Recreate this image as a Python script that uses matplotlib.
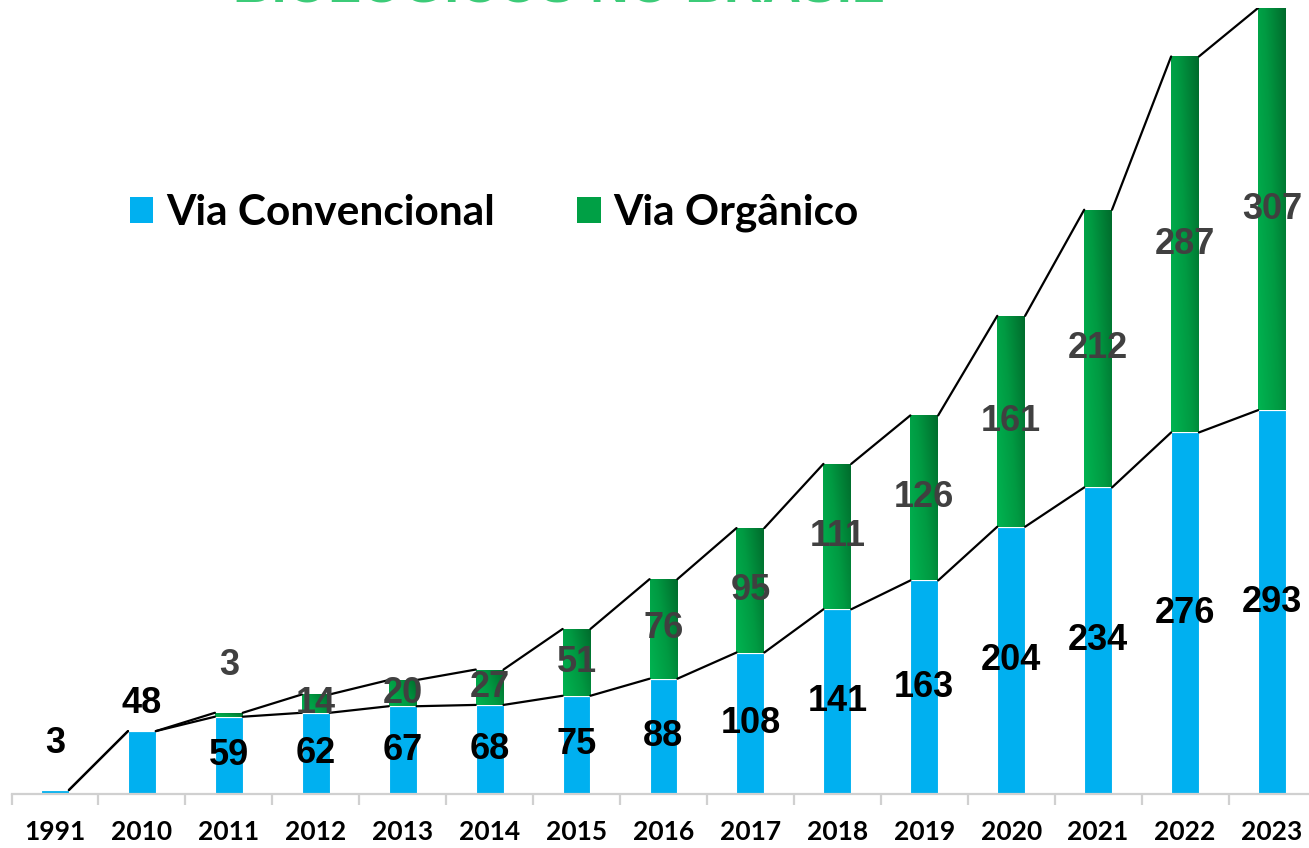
import matplotlib
matplotlib.use("Agg")
import matplotlib.pyplot as plt
import numpy as np
from matplotlib.patches import Patch
from matplotlib.colors import LinearSegmentedColormap

years = ["1991", "2010", "2011", "2012", "2013", "2014", "2015", "2016",
         "2017", "2018", "2019", "2020", "2021", "2022", "2023"]
convencional = [3, 48, 59, 62, 67, 68, 75, 88, 108, 141, 163, 204, 234, 276, 293]
organico = [0, 0, 3, 14, 20, 27, 51, 76, 95, 111, 126, 161, 212, 287, 307]

blue = "#00b0f0"
green_cmap = LinearSegmentedColormap.from_list("g", ["#00b451", "#009a42", "#006b2c"])

fig = plt.figure(figsize=(13.09, 8.48), dpi=100)
ax = fig.add_axes([11.5 / 1309, 54 / 848, 1 - 11.5 / 1309, 786 / 848])

x = np.arange(len(years))
w = 0.32
conv = np.array(convencional)
org = np.array(organico)
total = conv + org

bars_c = ax.bar(x, conv, w, color=blue, edgecolor="white", linewidth=0.8, zorder=2)
bars_o = ax.bar(x, org, w, bottom=conv, color="#00a045", edgecolor="white",
                linewidth=0.8, zorder=2)

# gradient fill for the green bars
gx, gy = np.meshgrid(np.linspace(0, 1, 50), np.linspace(0, 1, 200))
grad = 0.65 * gx + 0.35 * gy
for b in bars_o:
    if b.get_height() <= 0:
        continue
    x0, y0 = b.get_x(), b.get_y()
    im = ax.imshow(grad, cmap=green_cmap, origin="lower", aspect="auto",
                   extent=[x0, x0 + b.get_width(), y0, y0 + b.get_height()],
                   zorder=2.5, vmin=0, vmax=1)
    im.set_clip_path(b)

# series lines between the bars (Excel style)
for i in range(len(x) - 1):
    ax.plot([x[i] + w / 2, x[i + 1] - w / 2], [conv[i], conv[i + 1]],
            color="black", lw=1.6, zorder=3, solid_capstyle="round")
    ax.plot([x[i] + w / 2, x[i + 1] - w / 2], [total[i], total[i + 1]],
            color="black", lw=1.6, zorder=3, solid_capstyle="round")

ax.set_xlim(-0.5, 14.426)
ax.set_ylim(0, 600)

# data labels
lab_font = dict(family="Liberation Sans", weight="bold", size=26)
above_c = {0: 47, 1: 28}
above_o = {2: 47}
for i in range(len(x)):
    if i in above_c:
        ax.annotate(str(conv[i]), (x[i], conv[i]), xytext=(0, above_c[i] * 0.72),
                    textcoords="offset points", ha="center", va="center",
                    color="black", zorder=5, **lab_font)
    else:
        ax.text(x[i], conv[i] / 2, str(conv[i]), ha="center", va="center",
                color="black", zorder=5, **lab_font)
    if org[i] > 0:
        if i in above_o:
            ax.annotate(str(org[i]), (x[i], total[i]), xytext=(0, above_o[i] * 0.72),
                        textcoords="offset points", ha="center", va="center",
                        color="#404040", zorder=5, **lab_font)
        else:
            ax.text(x[i], conv[i] + org[i] / 2, str(org[i]), ha="center",
                    va="center", color="#404040", zorder=5, **lab_font)

# axes styling
for s in ["top", "right", "left"]:
    ax.spines[s].set_visible(False)
ax.spines["bottom"].set_color("#d0d0d0")
ax.spines["bottom"].set_linewidth(1.6)
ax.set_yticks([])
ax.set_xticks(x)
ax.set_xticklabels(years, family="Lato", weight="bold", size=19)
ax.tick_params(axis="x", which="major", length=0, pad=19)
ax.set_xticks(np.arange(-0.5, 14.5, 1), minor=True)
ax.tick_params(axis="x", which="minor", length=8, width=1.6, color="#d0d0d0")

# legend
handles = [Patch(facecolor=blue), Patch(facecolor="#00a045")]
ax.legend(handles, ["Via Convencional", "Via Orgânico"], ncol=2, frameon=False,
          loc="center left", bbox_to_anchor=(130 / 1309, 1 - 213 / 848),
          bbox_transform=fig.transFigure, borderpad=0, borderaxespad=0,
          handlelength=0.55, handleheight=0.55, handletextpad=0.3,
          columnspacing=1.95, prop=dict(family="Lato", weight="bold", size=30.5))

# title (mostly cut off at top edge, as in the source image)
fig.text(233 / 1309, 1 - 1.5 / 848, "BIOLÓGICOS NO BRASIL", color="#3ccb78",
         family="Liberation Sans", weight="bold", size=38.5, ha="left", va="baseline")

fig.savefig("out.png", dpi=100)
